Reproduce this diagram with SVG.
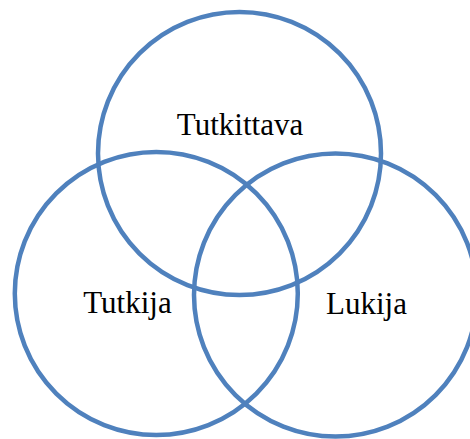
<svg xmlns="http://www.w3.org/2000/svg" width="470" height="439" viewBox="0 0 470 439">
<style>
.c{fill:none;stroke:#4F81BD;stroke-width:4.5}
.t{font-family:"Liberation Serif","Times New Roman",serif;font-size:31px;fill:#000;text-anchor:middle}
</style>
<rect width="470" height="439" fill="#fff"/>
<g id="tutkittava"><circle class="c" cx="239.5" cy="153.5" r="141.5"/><text class="t" x="240" y="135">Tutkittava</text></g>
<g id="tutkija"><circle class="c" cx="156.3" cy="293.5" r="141.5"/><text class="t" x="127.5" y="313">Tutkija</text></g>
<g id="lukija"><circle class="c" cx="335.5" cy="295" r="141.5"/><text class="t" x="366.5" y="314">Lukija</text></g>
<g id="connectors"/>
</svg>
